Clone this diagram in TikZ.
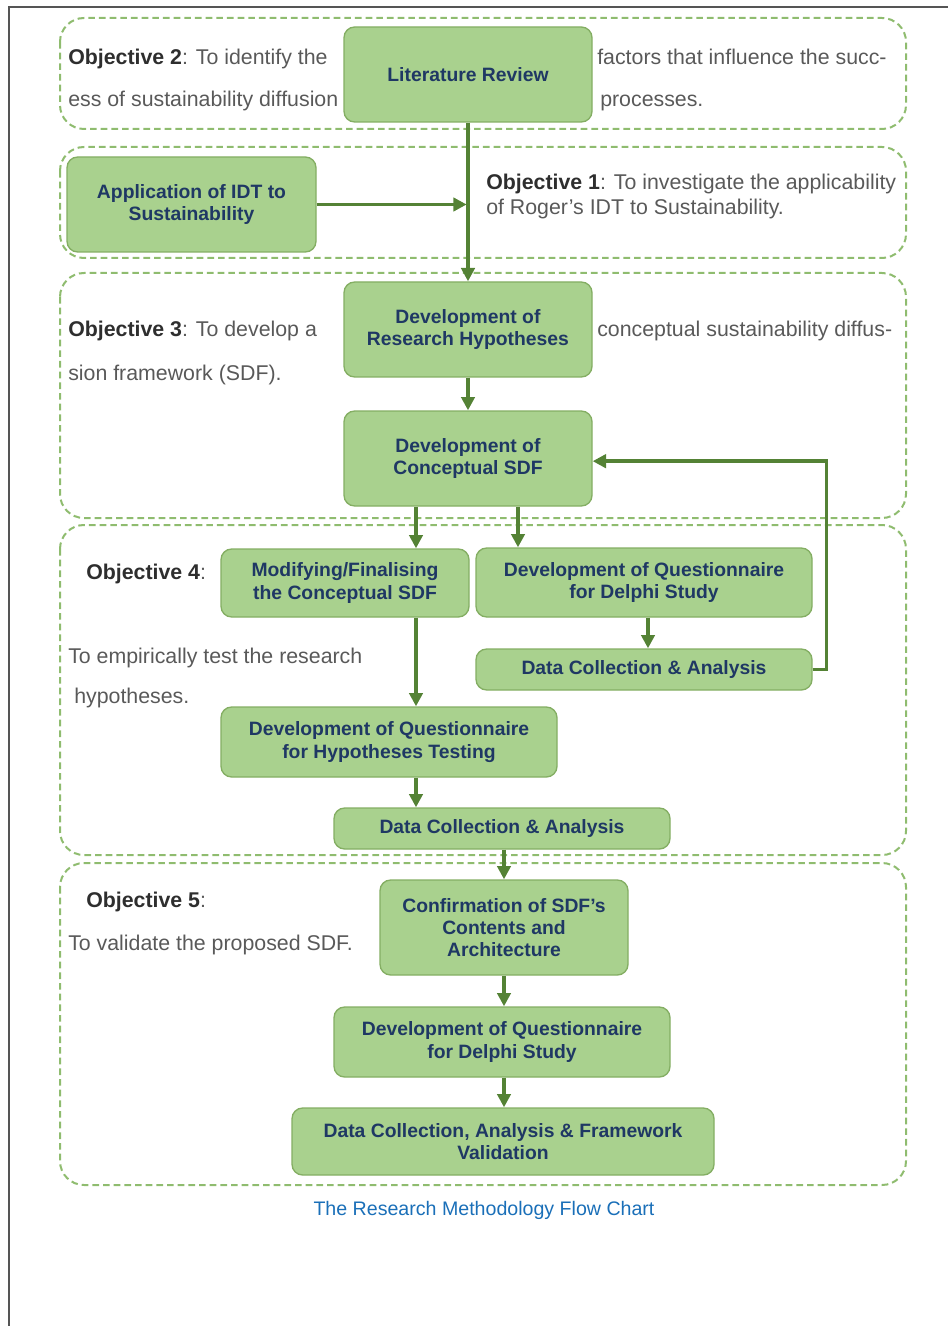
\documentclass[tikz,border=0pt]{standalone}
\usepackage{fontspec}
\setmainfont{Liberation Sans}
\usetikzlibrary{arrows.meta, positioning, calc}

\begin{document}
\begin{tikzpicture}[
    % pixel coordinates of the page: 948 wide, 1326 tall, y grows downward
    x=0.75pt, y=-0.75pt,
]

% ---------------------------------------------------------------- colours
\definecolor{boxfill}{HTML}{A9D18E}
\definecolor{boxedge}{HTML}{84AE63}
\definecolor{boxtext}{HTML}{1F3864}
\definecolor{flowgreen}{HTML}{548235}
\definecolor{dashgreen}{HTML}{8FBC6F}
\definecolor{objdark}{HTML}{2E2E2E}
\definecolor{objgray}{HTML}{595959}
\definecolor{captionblue}{HTML}{1A6FB8}
\definecolor{framegray}{HTML}{555555}

\tikzset{
    region/.style={draw=dashgreen, line width=1.5pt,
                   dash pattern=on 5pt off 3pt, rounded corners=18pt},
    box/.style={draw=boxedge, fill=boxfill, line width=1pt,
                rounded corners=8pt, text=boxtext, align=center,
                inner sep=0pt,
                font=\fontsize{14.5}{16.8}\selectfont\bfseries},
    flow/.style={flowgreen, line width=2.6pt,
                 -{Triangle[length=10pt, width=10pt]}},
    obj/.style={anchor=base west, inner sep=0pt, text=objgray,
                font=\fontsize{16}{19}\selectfont},
}

\useasboundingbox (0,0) rectangle (948,1326);

% ---------------------------------------------------------------- page frame
\draw[framegray, line width=1.5pt] (9,1326) -- (9,7) -- (948,7);

% ---------------------------------------------------------------- objective regions
\draw[region] (60,18)  rectangle (906,129);
\draw[region] (60,147) rectangle (906,258);
\draw[region] (60,273) rectangle (906,518);
\draw[region] (60,525) rectangle (906,855);
\draw[region] (60,863) rectangle (906,1185);

% ---------------------------------------------------------------- boxes
\node[box, minimum width=186pt, minimum height=71.25pt] (lit) at (468,74.5)
    {Literature Review};
\node[box, minimum width=186.75pt, minimum height=71.25pt] (app) at (191.5,204.5)
    {Application of IDT to\\Sustainability};
\node[box, minimum width=186pt, minimum height=71.25pt] (hyp) at (468,329.5)
    {Development of\\Research Hypotheses};
\node[box, minimum width=186pt, minimum height=71.25pt] (concept) at (468,458.5)
    {Development of\\Conceptual SDF};
\node[box, minimum width=186pt, minimum height=51pt] (modif) at (345,583)
    {Modifying/Finalising\\the Conceptual SDF};
\node[box, minimum width=252pt, minimum height=51.75pt] (delphi) at (644,582.5)
    {Development of Questionnaire\\for Delphi Study};
\node[box, minimum width=252pt, minimum height=30.75pt] (dcaright) at (644,669.5)
    {Data Collection \& Analysis};
\node[box, minimum width=252pt, minimum height=52.5pt] (hyptest) at (389,742)
    {Development of Questionnaire\\for Hypotheses Testing};
\node[box, minimum width=252pt, minimum height=30.75pt] (dcamid) at (502,828.5)
    {Data Collection \& Analysis};
\node[box, minimum width=186pt, minimum height=71.25pt] (confirm) at (504,927.5)
    {Confirmation of SDF's\\Contents and\\Architecture};
\node[box, minimum width=252pt, minimum height=52.5pt] (delphitwo) at (502,1042)
    {Development of Questionnaire\\for Delphi Study};
\node[box, minimum width=316.5pt, minimum height=50.25pt] (valid) at (503,1141.5)
    {Data Collection, Analysis \& Framework\\Validation};

% ---------------------------------------------------------------- connectors
\draw[flow] (lit.south) -- (hyp.north);
\draw[flow, shorten >=1pt] (app.east) -- (app.east -| lit.south);
\draw[flow] (hyp.south) -- (concept.south |- concept.north);
\draw[flow] (concept.south -| 416,0) -- (modif.north -| 416,0);
\draw[flow] (concept.south -| 518,0) -- (delphi.north -| 518,0);
\draw[flow] (delphi.south -| 648,0) -- (dcaright.north -| 648,0);
\draw[flow] (dcaright.east) -- ++(14,0) |- ([yshift=-2pt]concept.east);
\draw[flow] (modif.south -| 416,0) -- (hyptest.north -| 416,0);
\draw[flow] (hyptest.south -| 416,0) -- (dcamid.north -| 416,0);
\draw[flow] (dcamid.south -| confirm.south) -- (confirm.north);
\draw[flow] (confirm.south) -- (confirm.south |- delphitwo.north);
\draw[flow] (confirm.south |- delphitwo.south) -- (confirm.south |- valid.north);

% ---------------------------------------------------------------- objective texts
\node[obj] (obj2a) at (68,65)
    {\textcolor{objdark}{\textbf{Objective 2}}: To identify the};
\node[obj] (obj2b) at (68,107) {ess of sustainability diffusion};
\node[obj] (obj2c) at (597,65) {factors that influence the succ-};
\node[obj] (obj2d) at (600,107) {processes.};

\node[obj] (obj1a) at (486,190)
    {\textcolor{objdark}{\textbf{Objective 1}}: To investigate the applicability};
\node[obj] (obj1b) at (486,215) {of Roger's IDT to Sustainability.};

\node[obj] (obj3a) at (68,337)
    {\textcolor{objdark}{\textbf{Objective 3}}: To develop a};
\node[obj] (obj3b) at (68,380) {sion framework (SDF).};
\node[obj] (obj3c) at (597,337) {conceptual sustainability diffus-};

\node[obj] (obj4a) at (86,579) {\textcolor{objdark}{\textbf{Objective 4}}:};
\node[obj] (obj4b) at (68,663) {To empirically test the research};
\node[obj] (obj4c) at (74,703) {hypotheses.};

\node[obj] (obj5a) at (86,907) {\textcolor{objdark}{\textbf{Objective 5}}:};
\node[obj] (obj5b) at (68,950) {To validate the proposed SDF.};

% ---------------------------------------------------------------- caption
\node[text=captionblue, font=\fontsize{14.7}{17}\selectfont] (caption)
    at (484,1210) {The Research Methodology Flow Chart};

\end{tikzpicture}
\end{document}
